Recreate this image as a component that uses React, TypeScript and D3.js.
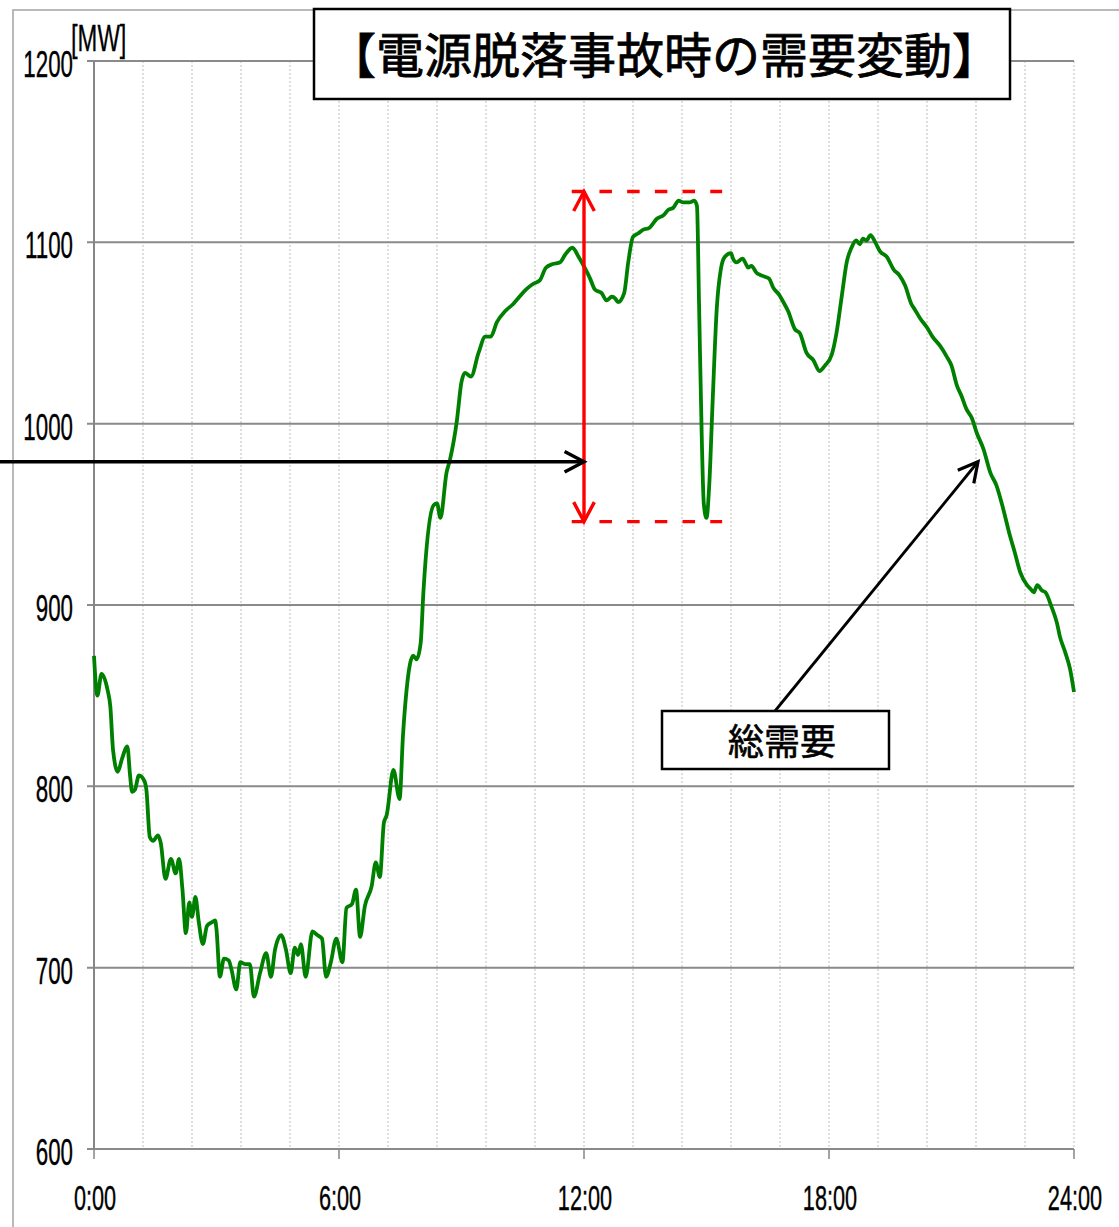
import React from "react";
import * as d3 from "d3";

// Total demand over the day: minute of day and MW
const minutes = [
  0, 5, 11, 20, 24, 28, 35, 41, 49, 53, 56, 60, 66, 74, 77, 82, 87, 94, 98, 105,
  113, 120, 125, 130, 135, 140, 144, 149, 154, 160, 166, 173, 178, 180, 185, 191, 198, 202, 209, 215,
  222, 229, 235, 244, 253, 260, 266, 275, 282, 289, 295, 300, 304, 311, 321, 328, 335, 341, 348, 356,
  365, 371, 379, 385, 391, 398, 408, 414, 420, 426, 430, 440, 449, 454, 459, 469, 474, 480, 484, 499,
  504, 509, 518, 523, 533, 540, 545, 554, 565, 575, 583, 592, 604, 616, 623, 635, 645, 655, 664, 674,
  685, 692, 703, 712, 721, 729, 736, 746, 753, 761, 766, 770, 779, 785, 792, 800, 807, 816, 827, 837,
  844, 851, 859, 866, 875, 882, 886, 889, 893, 896, 900, 904, 909, 915, 921, 927, 936, 939, 944, 953,
  958, 961, 966, 974, 979, 986, 992, 998, 1007, 1013, 1020, 1030, 1037, 1047, 1057, 1066, 1074, 1084, 1091, 1099,
  1106, 1113, 1120, 1125, 1130, 1135, 1141, 1148, 1155, 1165, 1175, 1183, 1192, 1201, 1206, 1214, 1224, 1232, 1243, 1253,
  1260, 1268, 1275, 1282, 1290, 1297, 1307, 1317, 1326, 1336, 1346, 1353, 1361, 1371, 1376, 1381, 1386, 1393, 1398, 1407,
  1415, 1419, 1427, 1434, 1440,
];

const demandMW = [
  872, 850, 862, 853, 844, 820, 808, 815, 822, 806, 797, 798, 806, 803, 798, 772, 770, 773, 769, 749,
  760, 752, 760, 743, 719, 736, 728, 739, 725, 713, 723, 725, 726, 721, 695, 705, 704, 699, 688, 703,
  702, 702, 684, 697, 708, 695, 710, 718, 710, 697, 711, 707, 713, 695, 720, 718, 716, 695, 703, 716,
  703, 733, 735, 743, 717, 734, 745, 758, 750, 780, 784, 809, 793, 828, 852, 872, 870, 879, 907, 955,
  956, 948, 973, 980, 1001, 1023, 1028, 1026, 1039, 1048, 1048, 1056, 1062, 1066, 1069, 1074, 1077, 1079, 1086, 1088,
  1089, 1093, 1097, 1092, 1086, 1080, 1074, 1072, 1068, 1070, 1069, 1067, 1072, 1089, 1103, 1105, 1107, 1108, 1113, 1115,
  1118, 1119, 1123, 1122, 1122, 1123, 1120, 1067, 993, 956, 948, 966, 1012, 1063, 1085, 1092, 1094, 1091, 1089, 1091,
  1088, 1086, 1087, 1083, 1082, 1081, 1080, 1075, 1071, 1067, 1062, 1052, 1050, 1039, 1035, 1029, 1032, 1038, 1050, 1071,
  1089, 1097, 1101, 1099, 1102, 1101, 1104, 1100, 1095, 1092, 1085, 1082, 1076, 1066, 1063, 1058, 1053, 1048, 1043, 1037,
  1032, 1021, 1015, 1008, 1003, 995, 986, 973, 966, 953, 938, 929, 918, 911, 909, 907, 911, 908, 907, 899,
  890, 883, 874, 865, 852,
];

const yTickValues = [600, 700, 800, 900, 1000, 1100, 1200];
const xTickMinutes = [0, 360, 720, 1080, 1440];
const xTickLabels = ["0:00", "6:00", "12:00", "18:00", "24:00"];
const gridStepMinutes = 72;

const titleText = "【電源脱落事故時の需要変動】";
const unitText = "[MW]";
const seriesLabel = "総需要";

// Annotation of the outage: demand band before and at the bottom of the dip
const dropTopMW = 1128;
const dropBottomMW = 946;
const dropBandFrom = 702;
const dropBandTo = 923;
const dropArrowMinute = 720;
const pointerMW = 979;
const seriesPointerMinute = 1299;

const W = 1119;
const H = 1227;
const LABEL_FONT = "'Liberation Sans', Arial, sans-serif";
const CJK_FONT = "'Noto Sans CJK JP', 'Noto Sans', sans-serif";
const NARROW = 0.62;

function chevron(tx: number, ty: number, angle: number, len = 22, spread = 28) {
  const a = (spread * Math.PI) / 180;
  const back = angle + Math.PI;
  const x1 = tx + len * Math.cos(back - a);
  const y1 = ty + len * Math.sin(back - a);
  const x2 = tx + len * Math.cos(back + a);
  const y2 = ty + len * Math.sin(back + a);
  return `M${x1},${y1}L${tx},${ty}L${x2},${y2}`;
}

export default function App() {
  const x = d3.scaleLinear().domain([0, 1440]).range([94, 1074]);
  const y = d3.scaleLinear().domain([600, 1200]).range([1149, 61]);

  const points: [number, number][] = minutes.map((m, i) => [m, demandMW[i]]);
  const linePath = d3
    .line<[number, number]>()
    .x((d) => x(d[0]))
    .y((d) => y(d[1]))
    .curve(d3.curveMonotoneX)(points) as string;

  const gridMinutes = d3.range(gridStepMinutes, 1440 + 1, gridStepMinutes);

  const arrowX = x(dropArrowMinute);
  const topY = y(dropTopMW);
  const botY = y(dropBottomMW);
  const pointerY = y(pointerMW);

  // series label box
  const box = { x: 662, y: 711, w: 227, h: 58 };
  const tipX = x(seriesPointerMinute);
  const tipY = y(pointerMW);
  const startX = 775;
  const startY = box.y;
  const diagAngle = Math.atan2(tipY - startY, tipX - startX);

  return (
    <svg
      width={W}
      height={H}
      style={{ position: "absolute", left: 0, top: 0, background: "#fff" }}
    >
      <rect x={0} y={0} width={W} height={H} fill="#fff" />
      {/* outer chart frame */}
      <rect x={13} y={10} width={W + 20} height={H + 20} fill="none" stroke="#a8a8a8" strokeWidth={1.6} />

      {/* vertical dotted grid */}
      {gridMinutes.map((m) => (
        <line
          key={"vg" + m}
          x1={x(m)}
          x2={x(m)}
          y1={y(1200)}
          y2={y(600)}
          stroke="#bdbdbd"
          strokeWidth={1}
          strokeDasharray="2 2"
        />
      ))}

      {/* horizontal grid */}
      {yTickValues.map((v) => (
        <line
          key={"hg" + v}
          x1={87}
          x2={x(1440)}
          y1={y(v)}
          y2={y(v)}
          stroke="#8a8a8a"
          strokeWidth={2}
        />
      ))}

      {/* axes */}
      <line x1={x(0)} x2={x(0)} y1={y(1200)} y2={y(600)} stroke="#868686" strokeWidth={2} />
      {xTickMinutes.map((m) => (
        <line key={"xt" + m} x1={x(m)} x2={x(m)} y1={y(600)} y2={y(600) + 10} stroke="#868686" strokeWidth={1.5} />
      ))}

      {/* y labels */}
      {yTickValues.map((v) => (
        <text
          key={"yl" + v}
          transform={`translate(73,${y(v) + 16}) scale(${NARROW},1)`}
          textAnchor="end"
          fontFamily={LABEL_FONT}
          fontSize={36}
          fill="#000"
          stroke="#000"
          strokeWidth={0.4}
        >
          {v}
        </text>
      ))}
      <text
        transform={`translate(71,51) scale(0.66,1)`}
        fontFamily={LABEL_FONT}
        fontSize={36}
        fill="#000"
        stroke="#000"
        strokeWidth={0.3}
      >
        {unitText}
      </text>

      {/* x labels */}
      {xTickMinutes.map((m, i) => (
        <text
          key={"xl" + m}
          transform={`translate(${x(m) + 1},1210) scale(${NARROW},1)`}
          textAnchor="middle"
          fontFamily={LABEL_FONT}
          fontSize={35}
          fill="#000"
          stroke="#000"
          strokeWidth={0.4}
        >
          {xTickLabels[i]}
        </text>
      ))}

      {/* demand line */}
      <path d={linePath} fill="none" stroke="#008000" strokeWidth={3.8} strokeLinejoin="round" />

      {/* outage band */}
      {[topY, botY].map((yy, i) => (
        <line
          key={"band" + i}
          x1={x(dropBandFrom)}
          x2={x(dropBandTo)}
          y1={yy}
          y2={yy}
          stroke="#ff0000"
          strokeWidth={3.4}
          strokeDasharray="12.5 15.2"
        />
      ))}
      <line x1={arrowX} x2={arrowX} y1={topY} y2={botY} stroke="#ff0000" strokeWidth={3.4} />
      <path d={chevron(arrowX, topY, -Math.PI / 2)} fill="none" stroke="#ff0000" strokeWidth={3.4} />
      <path d={chevron(arrowX, botY, Math.PI / 2)} fill="none" stroke="#ff0000" strokeWidth={3.4} />

      {/* pointer from the left edge */}
      <line x1={0} x2={arrowX} y1={pointerY} y2={pointerY} stroke="#000" strokeWidth={3.4} />
      <path d={chevron(arrowX, pointerY, 0)} fill="none" stroke="#000" strokeWidth={3.4} />

      {/* series label pointer */}
      <line x1={startX} y1={startY} x2={tipX} y2={tipY} stroke="#000" strokeWidth={2.8} />
      <path d={chevron(tipX, tipY, diagAngle)} fill="none" stroke="#000" strokeWidth={3.2} />

      {/* series label */}
      <rect x={box.x} y={box.y} width={box.w} height={box.h} fill="#fff" stroke="#000" strokeWidth={2.5} />
      <text
        x={782}
        y={755}
        textAnchor="middle"
        fontFamily={CJK_FONT}
        fontSize={36}
        fill="#000"
        stroke="#000"
        strokeWidth={0.6}
      >
        {seriesLabel}
      </text>

      {/* title */}
      <rect x={314} y={9} width={696} height={90} fill="#fff" stroke="#000" strokeWidth={2.5} />
      <text
        x={664}
        y={73}
        textAnchor="middle"
        fontFamily={CJK_FONT}
        fontSize={48}
        fill="#000"
        stroke="#000"
        strokeWidth={0.8}
      >
        {titleText}
      </text>
    </svg>
  );
}
